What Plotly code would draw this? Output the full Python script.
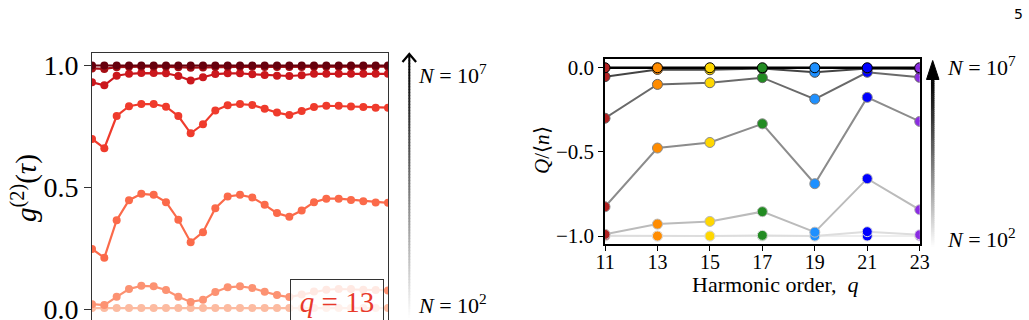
import plotly.graph_objects as go

W, H = 1029, 320
def px(x): return x / W
def py(y): return 1 - y / H

# ---------------- data ----------------
# left panel: g2(tau) for q = 13, several N
tau_idx = [0, 1, 2, 3, 4, 5, 6, 7, 8, 9, 10, 11, 12, 13, 14, 15, 16, 17, 18, 19, 20, 21, 22, 23, 24]
g2_N1e2 = [0.004] * 25
g2_N1e3 = [0.020, 0.016, 0.050, 0.082, 0.095, 0.093, 0.078, 0.050, 0.029, 0.038, 0.070, 0.089, 0.093,
           0.086, 0.071, 0.057, 0.049, 0.059, 0.072, 0.079, 0.082, 0.082, 0.079, 0.078, 0.076]
g2_N1e4 = [0.246, 0.210, 0.364, 0.446, 0.472, 0.468, 0.438, 0.366, 0.274, 0.315, 0.413, 0.461, 0.468,
           0.457, 0.427, 0.393, 0.378, 0.404, 0.438, 0.452, 0.452, 0.447, 0.442, 0.437, 0.435]
g2_N1e5 = [0.697, 0.659, 0.791, 0.831, 0.840, 0.840, 0.829, 0.791, 0.720, 0.757, 0.814, 0.835, 0.840,
           0.836, 0.821, 0.805, 0.795, 0.811, 0.828, 0.833, 0.833, 0.830, 0.828, 0.825, 0.825]
g2_N1e6 = [0.929, 0.917, 0.956, 0.964, 0.967, 0.967, 0.966, 0.955, 0.936, 0.950, 0.963, 0.966, 0.966,
           0.962, 0.959, 0.956, 0.955, 0.958, 0.964, 0.964, 0.964, 0.964, 0.964, 0.964, 0.964]
g2_N1e65 = [0.986, 0.984, 0.991, 0.993, 0.993, 0.993, 0.993, 0.991, 0.989, 0.990, 0.992, 0.993, 0.993,
            0.993, 0.992, 0.992, 0.992, 0.992, 0.993, 0.993, 0.993, 0.993, 0.993, 0.993, 0.993]
g2_N1e7 = [0.998] * 25
left_series = [g2_N1e2, g2_N1e3, g2_N1e4, g2_N1e5, g2_N1e6, g2_N1e65, g2_N1e7]
left_colors = ["#fcbba1", "#fc9272", "#fb6a4a", "#ef3b2c", "#cb181d", "#a50f15", "#67000d"]

# right panel: Mandel Q / <n> vs harmonic order
harmonics = [11, 13, 15, 17, 19, 21, 23]
Q_A = [0.0, 0.0, 0.0, 0.0, 0.0, 0.0, 0.0]
Q_B = [-0.053, -0.010, -0.012, -0.005, -0.027, -0.004, -0.008]
Q_C = [-0.300, -0.099, -0.089, -0.059, -0.186, -0.027, -0.057]
Q_D = [-0.826, -0.477, -0.444, -0.333, -0.689, -0.176, -0.319]
Q_E = [-0.990, -0.929, -0.913, -0.855, -0.977, -0.659, -0.844]
Q_F = [-0.998, -1.000, -1.000, -0.996, -1.000, -0.974, -0.992]
Q_G = [-1.000, -1.000, -1.000, -1.000, -1.000, -1.000, -1.000]
right_series = [Q_G, Q_F, Q_E, Q_D, Q_C, Q_B, Q_A]
right_line_colors = ["#eeeeee", "#dddddd", "#bbbbbb", "#8c8c8c", "#6a6a6a", "#444444", "#000000"]
harmonic_colors = ["#b22222", "#ff8c00", "#ffd700", "#228b22", "#1e90ff", "#0000ff", "#8a2be2"]

SERIF = "Liberation Serif"

fig = go.Figure()

for ys, c in zip(left_series, left_colors):
    fig.add_trace(go.Scatter(x=tau_idx, y=ys, mode="lines+markers", xaxis="x", yaxis="y",
                             line=dict(color=c, width=2.2), marker=dict(color=c, size=8),
                             showlegend=False))

for ys, c in zip(right_series, right_line_colors):
    fig.add_trace(go.Scatter(x=harmonics, y=ys, mode="lines+markers", xaxis="x2", yaxis="y2",
                             line=dict(color=c, width=2.6 if c == "#000000" else 2),
                             marker=dict(color=harmonic_colors, size=10,
                                         line=dict(color=c if c != "#eeeeee" else "#e0e0e0", width=1)),
                             showlegend=False))

fig.update_layout(
    template="none",
    width=W, height=H, margin=dict(l=0, r=0, t=0, b=0, autoexpand=False),
    paper_bgcolor="white", plot_bgcolor="white",
    font=dict(family=SERIF, color="black"),
    xaxis=dict(domain=[px(92), px(388)], range=[0, 24], showgrid=False, zeroline=False,
               showticklabels=False, ticks="", showline=True, mirror=True, automargin=False,
               linecolor="#333333", linewidth=1),
    yaxis=dict(domain=[0, py(52.7)], range=[-0.045, 1.0504], showgrid=False, zeroline=False,
               tickvals=[0.0, 0.5, 1.0], ticktext=["0.0", "0.5", "1.0"], ticks="outside",
               ticklen=7, tickcolor="#333333", tickfont=dict(size=28, family=SERIF), automargin=False,
               ticklabeloverflow="allow", ticklabelstandoff=0,
               showline=True, mirror=True, linecolor="#333333", linewidth=1),
    xaxis2=dict(domain=[px(605), px(919.7)], range=[11, 23], showgrid=False, zeroline=False,
                tickvals=harmonics, ticks="outside", ticklen=5, tickcolor="black",
                tickfont=dict(size=20, family=SERIF), anchor="y2", automargin=False,
                ticklabelstandoff=-6,
                showline=True, mirror=True, linecolor="black", linewidth=1.5),
    yaxis2=dict(domain=[py(244.3), py(59)], range=[-1.049, 0.052], showgrid=False, zeroline=False,
                tickvals=[-1.0, -0.5, 0.0], ticktext=["\u22121.0", "\u22120.5", "0.0"], ticks="outside",
                ticklen=5, tickcolor="black", tickfont=dict(size=21, family=SERIF), anchor="x2",
                automargin=False,
                showline=True, mirror=True, linecolor="black", linewidth=1.5),
)

shapes = []
# gradient arrows (decoration)
def grad_arrow(x, y_top, y_bot, width, nseg=90):
    for i in range(nseg):
        ya = y_bot - (y_bot - y_top) * i / nseg
        yb = y_bot - (y_bot - y_top) * (i + 1) / nseg - 0.6
        t = (i + 0.5) / nseg
        g = int(round(255 * (1 - t) ** 1.1))
        g = max(0, min(255, g))
        shapes.append(dict(type="line", xref="paper", yref="paper",
                           x0=px(x), x1=px(x), y0=py(ya), y1=py(yb),
                           line=dict(color=f"rgb({g},{g},{g})", width=width)))

grad_arrow(409.3, 55, 318, 2)
shapes.append(dict(type="path", xref="paper", yref="paper",
                   path=f"M {px(402.5)},{py(62)} L {px(409.3)},{py(54)} L {px(416.1)},{py(62)}",
                   line=dict(color="black", width=2.2)))
grad_arrow(932.7, 78, 247, 3.5)
shapes.append(dict(type="path", xref="paper", yref="paper",
                   path=f"M {px(926.5)},{py(79.5)} L {px(932.7)},{py(60.5)} L {px(939.0)},{py(79.5)} Z",
                   fillcolor="black", line=dict(color="black", width=1)))
fig.update_layout(shapes=shapes)

def ann(text, x, y, size, xanchor="center", **kw):
    d = dict(text=text, x=px(x), y=py(y), xref="paper", yref="paper", xanchor=xanchor,
             yanchor="middle", showarrow=False, font=dict(size=size, family=kw.pop("family", SERIF),
                                                          color=kw.pop("color", "black")))
    d.update(kw)
    return d

annotations = [
    ann("<i>g</i><sup>(2)</sup>(<i>\u03c4</i>)", 24, 188, 29, textangle=-90),
    dict(text="<i>q</i> = 13", x=px(290), y=py(279), xref="paper", yref="paper",
         xanchor="left", yanchor="top", showarrow=False, width=88, height=40, align="center",
         bordercolor="#333333", borderwidth=1, borderpad=2, bgcolor="rgba(255,255,255,0.8)",
         font=dict(size=29, family=SERIF, color="#e8392b")),
    ann("<i>N</i> = 10<sup>7</sup>", 416, 74, 22, xanchor="left"),
    ann("<i>N</i> = 10<sup>2</sup>", 416, 304, 22, xanchor="left"),
    ann("<i>N</i> = 10<sup>7</sup>", 945, 66, 22, xanchor="left"),
    ann("<i>N</i> = 10<sup>2</sup>", 945, 238, 22, xanchor="left"),
    ann("<i>Q</i>/\u27e8<i>n</i>\u27e9", 542, 150, 21, textangle=-90),
    ann("Harmonic order,  <i>q</i>", 775, 284, 22),
    ann("5", 1018, 14, 14, family="DejaVu Sans"),
]
fig.update_layout(annotations=annotations)

fig.write_html("out.html")
